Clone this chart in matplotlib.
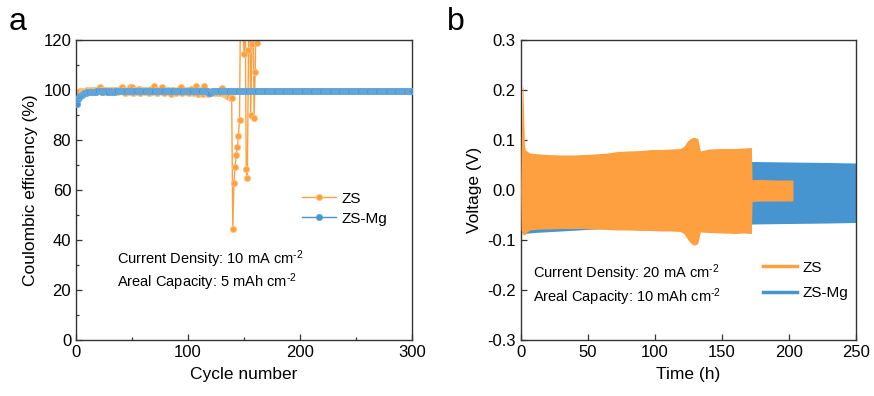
import numpy as np
import matplotlib
matplotlib.use("Agg")
import matplotlib.pyplot as plt
from matplotlib.lines import Line2D
from matplotlib.ticker import MultipleLocator, FormatStrFormatter

plt.rcParams['font.family'] = ['Liberation Sans', 'DejaVu Sans']
plt.rcParams['mathtext.fontset'] = 'custom'
plt.rcParams['mathtext.rm'] = 'Liberation Sans'
plt.rcParams['mathtext.it'] = 'Liberation Sans'
plt.rcParams['axes.unicode_minus'] = False

# ---------------- data: panel a (Coulombic efficiency, %) ----------------
ce_zs = [
    97.6, 98.7, 99.2, 99.5, 99.6, 99.7, 99.8, 99.8, 99.7, 99.9, 99.8, 99.6, 99.9, 100.0, 99.8, 99.7, 100.1, 99.9, 99.8, 100.0,
    101.1, 100.2, 99.6, 99.9, 99.3, 100.1, 99.8, 99.2, 99.9, 100.0, 99.5, 99.8, 100.2, 99.1, 99.7, 100.0, 99.4, 99.8, 100.3, 99.6,
    101.2, 99.5, 100.0, 98.9, 99.7, 100.2, 99.4, 101.4, 99.8, 101.3, 98.7, 99.9, 100.1, 99.3, 99.8, 100.4, 99.0, 99.7, 100.0, 99.5,
    99.9, 99.2, 100.1, 99.6, 99.0, 99.8, 100.3, 99.4, 99.7, 101.5, 99.9, 98.9, 100.2, 99.6, 99.8, 100.0, 101.2, 99.3, 98.8, 99.9,
    99.6, 100.2, 99.2, 99.8, 98.6, 99.9, 100.1, 99.5, 98.9, 99.7, 100.0, 99.3, 99.8, 101.4, 98.8, 99.6, 100.2, 99.1, 99.7, 99.9,
    98.7, 99.6, 100.3, 99.4, 99.0, 99.8, 101.6, 99.2, 98.5, 99.9, 100.1, 99.3, 98.6, 101.5, 99.7, 99.0, 99.8, 98.4, 99.6, 99.5,
    99.2, 99.8, 98.9, 99.6, 99.3, 98.7, 99.8, 99.4, 98.8, 100.8, 99.2, 98.4, 99.0, 98.2, 97.8, 97.5,
    97.3, 97.0, 97.0, 44.3, 62.7, 69.2, 73.9, 77.2, 81.6, 87.9, 140.0, 135.0, 130.0, 114.5, 135.0, 68.4, 64.7,
    116.0, 140.0, 90.1, 118.3, 135.0, 89.0, 107.3, 138.0, 119.0,
]
ce_mg = [
    94.4, 96.3, 97.2, 97.8, 98.2, 98.5, 98.7, 98.9, 99.0, 99.1, 99.2, 99.2, 99.3, 99.3, 99.3, 99.4, 99.4, 99.4, 99.5, 99.5,
    99.5, 99.5, 99.4, 99.5, 99.5, 99.6, 99.5, 99.5, 99.4, 99.5, 99.3, 99.2, 99.3, 99.4, 99.5, 99.5, 99.6, 99.5, 99.5, 99.6,
    99.5, 99.6, 99.6, 99.5, 99.6, 99.6, 99.5, 99.6, 99.6, 99.6, 99.5, 99.6, 99.6, 99.6, 99.5, 99.6, 99.6, 99.6, 99.6, 99.5,
    99.6, 99.6, 99.6, 99.5, 99.6, 99.6, 99.6, 99.6, 99.6, 99.5, 99.6, 99.6, 99.6, 99.6, 99.6, 99.6, 99.5, 99.6, 99.6, 99.6,
    99.6, 99.6, 99.6, 99.6, 99.5, 99.6, 99.6, 99.6, 99.6, 99.6, 99.6, 99.6, 99.6, 99.5, 99.6, 99.6, 99.6, 99.6, 99.6, 99.6,
    99.6, 99.6, 99.6, 99.6, 99.6, 99.6, 99.5, 99.6, 99.6, 99.6, 99.6, 99.6, 99.6, 99.6, 99.6, 99.6, 99.6, 99.4, 98.7, 99.0,
    99.3, 99.5, 99.6, 99.6, 99.6, 99.6, 99.6, 99.7, 99.6, 99.6, 99.6, 99.7, 99.6, 99.6, 99.6, 99.7, 99.6, 99.6, 99.7, 99.6,
    99.6, 99.7, 99.6, 99.6, 99.7, 99.6, 99.6, 99.7, 99.6, 99.7, 99.6, 99.6, 99.7, 99.6, 99.7, 99.6, 99.7, 99.6, 99.6, 99.7,
    99.6, 99.7, 99.6, 99.7, 99.6, 99.7, 99.6, 99.7, 99.6, 99.7, 99.6, 99.7, 99.7, 99.6, 99.7, 99.6, 99.7, 99.7, 99.6, 99.7,
    99.7, 99.6, 99.7, 99.7, 99.6, 99.7, 99.7, 99.6, 99.7, 99.7, 99.7, 99.6, 99.7, 99.7, 99.7, 99.6, 99.7, 99.7, 99.7, 99.7,
    99.6, 99.7, 99.7, 99.7, 99.7, 99.6, 99.7, 99.7, 99.7, 99.7, 99.7, 99.6, 99.7, 99.7, 99.7, 99.7, 99.7, 99.7, 99.6, 99.7,
    99.7, 99.7, 99.7, 99.7, 99.7, 99.7, 99.6, 99.7, 99.7, 99.7, 99.7, 99.7, 99.7, 99.7, 99.7, 99.6, 99.7, 99.7, 99.7, 99.7,
    99.7, 99.7, 99.7, 99.7, 99.7, 99.7, 99.7, 99.6, 99.7, 99.7, 99.7, 99.7, 99.7, 99.7, 99.7, 99.7, 99.7, 99.7, 99.7, 99.7,
    99.7, 99.7, 99.7, 99.7, 99.7, 99.7, 99.7, 99.7, 99.7, 99.7, 99.7, 99.7, 99.7, 99.7, 99.7, 99.7, 99.7, 99.7, 99.7, 99.7,
    99.7, 99.7, 99.7, 99.7, 99.7, 99.7, 99.7, 99.7, 99.7, 99.7, 99.7, 99.7, 99.7, 99.7, 99.7, 99.7, 99.7, 99.7, 99.7, 99.8,
]
cyc_zs = np.arange(1, len(ce_zs) + 1)
cyc_mg = np.arange(1, len(ce_mg) + 1)

# ---------------- data: panel b (voltage envelope, V) ----------------
zs_t  = [0, 0.3, 1.2, 1.6, 2.2, 2.8, 3.5, 5, 7, 10, 15, 20, 30, 40, 47, 55, 65, 72, 80, 90,
         97, 105, 112, 119, 122, 124, 126, 128, 130, 132, 133, 134, 140, 150, 160, 166, 171, 172, 172.5, 180,
         190, 200, 203]
zs_up = [0.0, 0.08, 0.20, 0.212, 0.15, 0.09, 0.08, 0.077, 0.074, 0.073, 0.072, 0.071, 0.070, 0.070, 0.071, 0.072, 0.074, 0.077, 0.078, 0.079,
         0.081, 0.081, 0.082, 0.083, 0.088, 0.097, 0.102, 0.105, 0.105, 0.103, 0.090, 0.078, 0.082, 0.083, 0.083, 0.084, 0.085, 0.085, 0.021, 0.021,
         0.020, 0.020, 0.020]
zs_lo = [0.0, -0.08, -0.086, -0.088, -0.090, -0.090, -0.088, -0.083, -0.080, -0.079, -0.078, -0.078, -0.077, -0.077, -0.077, -0.078, -0.079, -0.080, -0.080, -0.081,
         -0.081, -0.082, -0.082, -0.083, -0.088, -0.097, -0.104, -0.109, -0.110, -0.107, -0.095, -0.084, -0.085, -0.086, -0.087, -0.086, -0.087, -0.087, -0.023, -0.022,
         -0.022, -0.022, -0.022]
mg_t  = [0, 0.2, 0.8, 1.2, 2, 3, 10, 30, 55, 70, 100, 150, 172, 172.5, 200, 230, 250]
mg_up = [0.0, 0.10, 0.10, 0.07, 0.065, 0.062, 0.060, 0.058, 0.058, 0.058, 0.058, 0.057, 0.057, 0.057, 0.056, 0.055, 0.054]
mg_lo = [0.0, -0.08, -0.085, -0.086, -0.087, -0.087, -0.085, -0.082, -0.078, -0.076, -0.074, -0.071, -0.069, -0.068, -0.067, -0.066, -0.065]

ORANGE = '#FFA040'
BLUE = '#4694D0'
SPINE = '#333333'
SUP = '$^{\u2010' + '2}$'   # superscript "-2" with a short hyphen

fig = plt.figure(figsize=(8.74, 3.96), dpi=100)
axa = fig.add_axes([76/874, 1-340/396, 336/874, 300/396])
axb = fig.add_axes([520.7/874, 1-340/396, 335.3/874, 300/396])

for ax in (axa, axb):
    for s in ax.spines.values():
        s.set_color(SPINE)
        s.set_linewidth(1.0)
    ax.tick_params(which='both', direction='in', top=False, right=False,
                   labelsize=12, color=SPINE, width=0.9)
    ax.tick_params(which='major', length=4)
    ax.tick_params(which='minor', length=2.5)

# ---- panel a ----
axa.plot(cyc_zs, ce_zs, '-o', color=ORANGE, lw=1.0, ms=4.5, mfc=ORANGE,
         mec='#FFC485', mew=0.6, label='ZS', zorder=2)
axa.plot(cyc_mg, ce_mg, '-o', color=BLUE, lw=1.0, ms=4.5, mfc=BLUE,
         mec='#6AAADC', mew=0.6, label='ZS-Mg', zorder=3)
axa.set_xlim(0, 300)
axa.set_ylim(0, 120)
axa.xaxis.set_major_locator(MultipleLocator(100))
axa.xaxis.set_minor_locator(MultipleLocator(50))
axa.yaxis.set_major_locator(MultipleLocator(20))
axa.yaxis.set_minor_locator(MultipleLocator(10))
axa.set_xlabel('Cycle number', fontsize=12.5, labelpad=5)
axa.set_ylabel('Coulombic efficiency (%)', fontsize=12.5, labelpad=4)
axa.legend(loc='upper left', bbox_to_anchor=(0.655, 0.515), frameon=False,
           fontsize=11, handlelength=2.2, handletextpad=0.4, labelspacing=0.4,
           borderaxespad=0)
axa.text(0.122, 0.27, 'Current Density: 10 mA cm' + SUP, transform=axa.transAxes,
         fontsize=10.5, va='center', ha='left')
axa.text(0.122, 0.193, 'Areal Capacity: 5 mAh cm' + SUP, transform=axa.transAxes,
         fontsize=10.5, va='center', ha='left')

# ---- panel b ----
axb.fill_between(mg_t, mg_lo, mg_up, color=BLUE, lw=0, zorder=2)
axb.fill_between(zs_t, zs_lo, zs_up, color=ORANGE, lw=0, zorder=3)
axb.set_xlim(0, 250)
axb.set_ylim(-0.3, 0.3)
axb.xaxis.set_major_locator(MultipleLocator(50))
axb.yaxis.set_major_locator(MultipleLocator(0.1))
axb.yaxis.set_major_formatter(FormatStrFormatter('%.1f'))
axb.set_xlabel('Time (h)', fontsize=12.5, labelpad=5)
axb.set_ylabel('Voltage (V)', fontsize=12.5, labelpad=4)
handles = [Line2D([], [], color=ORANGE, lw=2.5), Line2D([], [], color=BLUE, lw=2.5)]
axb.legend(handles, ['ZS', 'ZS-Mg'], loc='upper left', bbox_to_anchor=(0.705, 0.285),
           frameon=False, fontsize=11, handlelength=2.2, handletextpad=0.4,
           labelspacing=0.75, borderaxespad=0)
axb.text(0.037, 0.223, 'Current Density: 20 mA cm' + SUP, transform=axb.transAxes,
         fontsize=10.5, va='center', ha='left')
axb.text(0.037, 0.143, 'Areal Capacity: 10 mAh cm' + SUP, transform=axb.transAxes,
         fontsize=10.5, va='center', ha='left')

fig.text(9/874, 1-22/396, 'a', fontsize=23, va='center', ha='left')
fig.text(447/874, 1-22/396, 'b', fontsize=23, va='center', ha='left')

fig.savefig('out.png', dpi=100)
